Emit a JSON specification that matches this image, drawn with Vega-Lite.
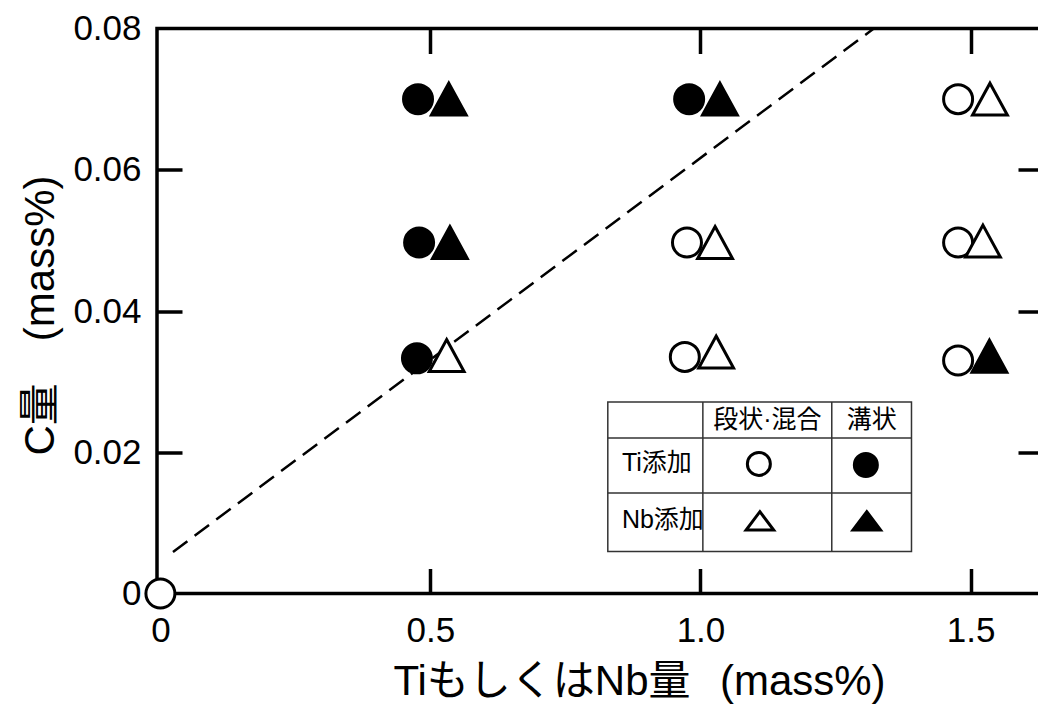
{
  "$schema": "https://vega.github.io/schema/vega-lite/v6.json",
  "width": 886,
  "height": 565,
  "autosize": {"type": "none"},
  "padding": {"left": 157, "top": 28.5, "right": 0, "bottom": 111},
  "background": "white",
  "config": {
    "font": "Liberation Sans, Arial, Noto Sans CJK JP",
    "view": {"stroke": "black", "strokeWidth": 3.5},
    "axis": {
      "grid": false,
      "domain": false,
      "tickColor": "black",
      "tickWidth": 3.5,
      "tickSize": -25,
      "labelColor": "black",
      "labelFontSize": 35,
      "labelFont": "Liberation Sans, Arial, Noto Sans CJK JP",
      "labelFlush": false,
      "labelOverlap": false,
      "titleColor": "black",
      "titleFontSize": 42,
      "titleFontWeight": "normal",
      "titleFont": "Liberation Sans, Arial, Noto Sans CJK JP"
    }
  },
  "datasets": {
    "pts": [
      {"x": 0.477, "y": 0.07, "el": "Ti", "form": "溝状"},
      {"x": 0.479, "y": 0.0497, "el": "Ti", "form": "溝状"},
      {"x": 0.475, "y": 0.0333, "el": "Ti", "form": "溝状"},
      {"x": 0.979, "y": 0.07, "el": "Ti", "form": "溝状"},
      {"x": 0.975, "y": 0.0497, "el": "Ti", "form": "段状·混合"},
      {"x": 0.971, "y": 0.0335, "el": "Ti", "form": "段状·混合"},
      {"x": 1.477, "y": 0.07, "el": "Ti", "form": "段状·混合"},
      {"x": 1.477, "y": 0.0497, "el": "Ti", "form": "段状·混合"},
      {"x": 1.477, "y": 0.033, "el": "Ti", "form": "段状·混合"},
      {"x": 0.534, "y": 0.07, "el": "Nb", "form": "溝状"},
      {"x": 0.536, "y": 0.0497, "el": "Nb", "form": "溝状"},
      {"x": 0.53, "y": 0.0337, "el": "Nb", "form": "段状·混合"},
      {"x": 1.036, "y": 0.07, "el": "Nb", "form": "溝状"},
      {"x": 1.027, "y": 0.0497, "el": "Nb", "form": "段状·混合"},
      {"x": 1.029, "y": 0.0342, "el": "Nb", "form": "段状·混合"},
      {"x": 1.536, "y": 0.07, "el": "Nb", "form": "段状·混合"},
      {"x": 1.523, "y": 0.0499, "el": "Nb", "form": "段状·混合"},
      {"x": 1.535, "y": 0.0336, "el": "Nb", "form": "溝状"},
      {"x": 0, "y": 0, "el": "Ti", "form": "段状·混合"}
    ],
    "dash": [
      {"x": 0.0233, "y": 0.00589},
      {"x": 1.3209, "y": 0.08}
    ],
    "box": [
      {"x1": 0.8284, "x2": 1.3907, "y1": 0.00593, "y2": 0.02712}
    ],
    "rules": [
      {"x1": 1.0044, "x2": 1.0044, "y1": 0.00593, "y2": 0.02712},
      {"x1": 1.2431, "x2": 1.2431, "y1": 0.00593, "y2": 0.02712},
      {"x1": 0.8284, "x2": 1.3907, "y1": 0.02202, "y2": 0.02202},
      {"x1": 0.8284, "x2": 1.3907, "y1": 0.01424, "y2": 0.01424}
    ],
    "tsym": [
      {"x": 1.1081, "y": 0.01835, "el": "Ti", "form": "段状·混合"},
      {"x": 1.3062, "y": 0.0182, "el": "Ti", "form": "溝状"},
      {"x": 1.11, "y": 0.01028, "el": "Nb", "form": "段状·混合"},
      {"x": 1.3079, "y": 0.01028, "el": "Nb", "form": "溝状"}
    ],
    "thead": [
      {"x": 1.1238, "y": 0.02457, "t": "段状·混合"},
      {"x": 1.3173, "y": 0.02457, "t": "溝状"}
    ],
    "trow": [
      {"x": 0.8545, "y": 0.01849, "t": "Ti添加"},
      {"x": 0.8545, "y": 0.01042, "t": "Nb添加"}
    ]
  },
  "layer": [
    {
      "data": {"name": "box"},
      "mark": {"type": "rect", "fill": "white", "stroke": "#333333", "strokeWidth": 1.5},
      "encoding": {
        "x": {"field": "x1", "type": "quantitative", "scale": {"domain": [-0.0063, 1.6342], "nice": false, "zero": false}, "axis": null},
        "x2": {"field": "x2"},
        "y": {"field": "y1", "type": "quantitative", "scale": {"domain": [0, 0.08], "nice": false}, "axis": null},
        "y2": {"field": "y2"}
      }
    },
    {
      "data": {"name": "rules"},
      "mark": {"type": "rule", "stroke": "#333333", "strokeWidth": 1.5},
      "encoding": {
        "x": {"field": "x1", "type": "quantitative", "axis": null},
        "x2": {"field": "x2"},
        "y": {"field": "y1", "type": "quantitative", "axis": null},
        "y2": {"field": "y2"}
      }
    },
    {
      "data": {"name": "dash"},
      "mark": {"type": "line", "stroke": "black", "strokeWidth": 2.5, "strokeDash": [18, 9]},
      "encoding": {
        "x": {"field": "x", "type": "quantitative", "axis": {"orient": "top", "values": [0.5, 1, 1.5], "labels": false, "title": null}},
        "y": {"field": "y", "type": "quantitative", "axis": {"orient": "right", "values": [0.02, 0.04, 0.06], "labels": false, "title": null}}
      }
    },
    {
      "data": {"name": "pts"},
      "mark": {"type": "point", "filled": true, "stroke": "black", "strokeWidth": 3, "size": 841, "opacity": 1},
      "encoding": {
        "x": {
          "field": "x", "type": "quantitative",
          "axis": {
            "orient": "bottom",
            "values": [0, 0.5, 1, 1.5],
            "labelExpr": "datum.value == 0 ? '0' : format(datum.value, '.1f')",
            "labelPadding": 45,
            "tickColor": {"condition": {"test": "datum.value == 0", "value": "transparent"}, "value": "black"},
            "title": "TiもしくはNb量\u2002\u2009(mass%)",
            "titleX": 482,
            "titleY": 101,
            "titleBaseline": "alphabetic"
          }
        },
        "y": {
          "field": "y", "type": "quantitative",
          "axis": {
            "orient": "left",
            "values": [0, 0.02, 0.04, 0.06, 0.08],
            "labelExpr": "datum.value == 0 ? '0' : format(datum.value, '.2f')",
            "labelPadding": 41,
            "tickColor": {"condition": {"test": "datum.value == 0 || datum.value == 0.08", "value": "transparent"}, "value": "black"},
            "title": "C量\u3000(mass%)",
            "titleX": -104,
            "titleY": 286.5,
            "titleBaseline": "alphabetic",
            "titleAngle": -90
          }
        },
        "shape": {"field": "el", "type": "nominal", "scale": {"domain": ["Ti", "Nb"], "range": ["circle", "M0,-1.1L1.2,1.1L-1.2,1.1Z"]}, "legend": null},
        "fill": {"field": "form", "type": "nominal", "scale": {"domain": ["段状·混合", "溝状"], "range": ["white", "black"]}, "legend": null}
      }
    },
    {
      "data": {"name": "tsym"},
      "mark": {"type": "point", "filled": true, "stroke": "black", "strokeWidth": 3, "size": 529, "opacity": 1},
      "encoding": {
        "x": {"field": "x", "type": "quantitative", "axis": null},
        "y": {"field": "y", "type": "quantitative", "axis": null},
        "shape": {"field": "el", "type": "nominal", "scale": {"domain": ["Ti", "Nb"], "range": ["circle", "M0,-0.8L1.2,0.8L-1.2,0.8Z"]}, "legend": null},
        "fill": {"field": "form", "type": "nominal", "legend": null}
      }
    },
    {
      "data": {"name": "thead"},
      "mark": {"type": "text", "fontSize": 25, "color": "black", "align": "center", "baseline": "middle", "font": "Liberation Sans, Arial, Noto Sans CJK JP"},
      "encoding": {
        "x": {"field": "x", "type": "quantitative", "axis": null},
        "y": {"field": "y", "type": "quantitative", "axis": null},
        "text": {"field": "t"}
      }
    },
    {
      "data": {"name": "trow"},
      "mark": {"type": "text", "fontSize": 25, "color": "black", "align": "left", "baseline": "middle", "font": "Liberation Sans, Arial, Noto Sans CJK JP"},
      "encoding": {
        "x": {"field": "x", "type": "quantitative", "axis": null},
        "y": {"field": "y", "type": "quantitative", "axis": null},
        "text": {"field": "t"}
      }
    }
  ],
  "resolve": {
    "axis": {"x": "independent", "y": "independent"},
    "scale": {"shape": "independent"}
  }
}
